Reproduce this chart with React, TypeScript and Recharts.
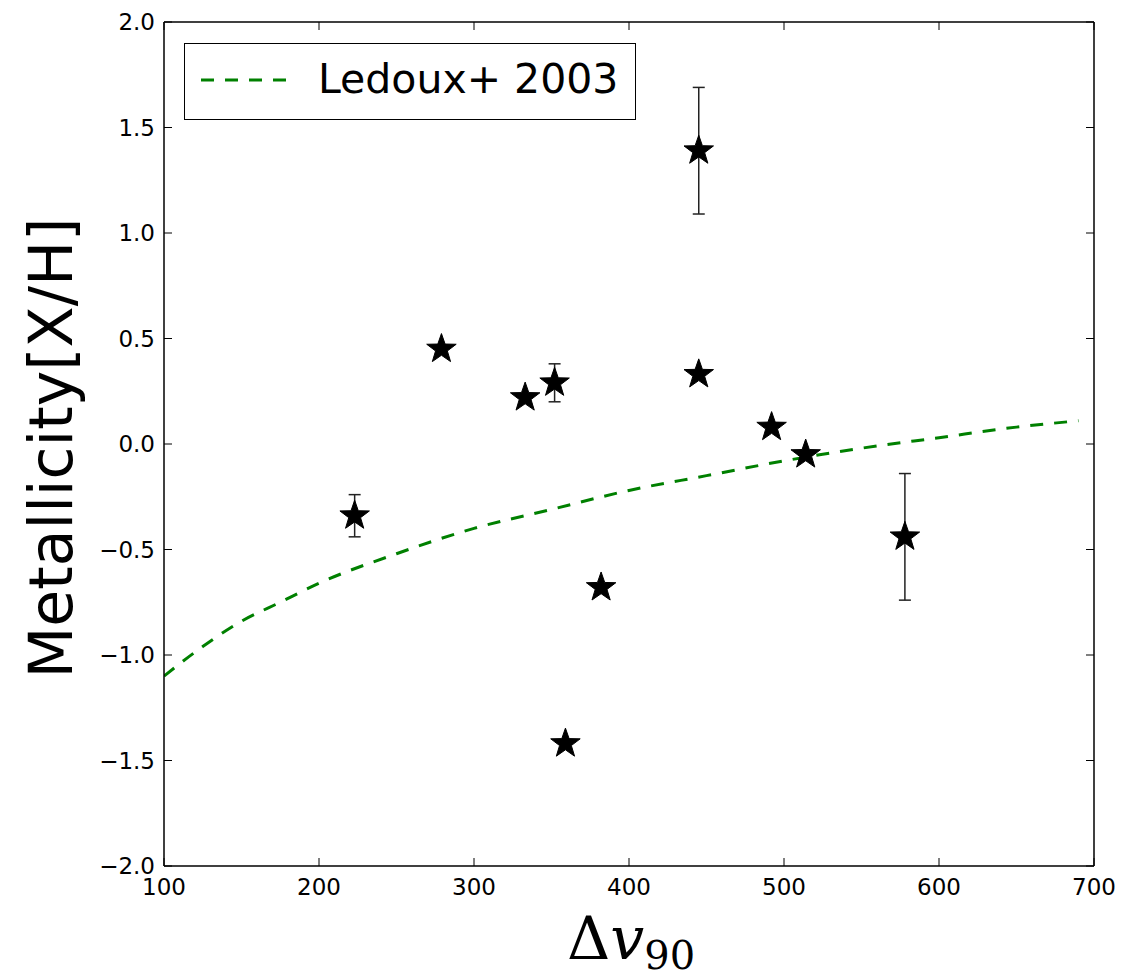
import React from 'react'
import {
  ComposedChart, Line, Scatter, ErrorBar, XAxis, YAxis, Legend, ReferenceLine,
} from 'recharts'

// measured stars: delta v90 vs metallicity, err = 0 means no error bar
const dv90 = [223, 279, 333, 352, 359, 382, 445, 445, 492, 514, 578]
const metal = [-0.34, 0.45, 0.22, 0.29, -1.42, -0.68, 1.39, 0.33, 0.08, -0.05, -0.44]
const metalErr = [0.1, 0, 0, 0.09, 0, 0, 0.3, 0, 0, 0, 0.3]

// Ledoux+ 2003 relation
const ledouxX = [100, 125, 150, 175, 200, 250, 300, 350, 400, 450, 500, 550, 600, 650, 690]
const ledouxY = [-1.1, -0.96, -0.84, -0.75, -0.66, -0.52, -0.4, -0.31, -0.22, -0.15, -0.08, -0.02, 0.03, 0.08, 0.11]

const xTicks = [100, 200, 300, 400, 500, 600, 700]
const yTicks = [-2, -1.5, -1, -0.5, 0, 0.5, 1, 1.5, 2]

const points = dv90.map((x, i) => ({ x, y: metal[i], err: metalErr[i] || null }))
const ledoux = ledouxX.map((x, i) => ({ x, y: ledouxY[i] }))

const W = 1127
const H = 977
const MARGIN = { top: 22, right: 33, left: 0, bottom: 0 }
const XAXIS_H = 111
const YAXIS_W = 164
const PLOT_TOP = MARGIN.top
const PLOT_RIGHT = W - MARGIN.right
const TICK_LEN = 8
const X_TM = 13
const Y_TM = 9

const FONT = '"DejaVu Sans", sans-serif'
const GREEN = '#008000'

const fmtY = (v: number) => (v < 0 ? '\u2212' : '') + Math.abs(v).toFixed(1)

// matplotlib style: ticks point inward, mirrored on top / right
const XTick = (props: any) => {
  const { x, y, payload } = props
  const axisY = y - X_TM
  return (
    <g>
      <line x1={x} y1={axisY} x2={x} y2={axisY - TICK_LEN} stroke="#000" strokeWidth={1} />
      <line x1={x} y1={PLOT_TOP} x2={x} y2={PLOT_TOP + TICK_LEN} stroke="#000" strokeWidth={1} />
      <text x={x} y={y} dy="0.71em" textAnchor="middle" fill="#000" fontSize={23} fontFamily={FONT}>
        {payload.value}
      </text>
    </g>
  )
}

const YTick = (props: any) => {
  const { x, y, payload } = props
  const axisX = x + Y_TM
  return (
    <g>
      <line x1={axisX} y1={y} x2={axisX + TICK_LEN} y2={y} stroke="#000" strokeWidth={1} />
      <line x1={PLOT_RIGHT - TICK_LEN} y1={y} x2={PLOT_RIGHT} y2={y} stroke="#000" strokeWidth={1} />
      <text x={x} y={y} dy="0.36em" textAnchor="end" fill="#000" fontSize={23} fontFamily={FONT}>
        {fmtY(payload.value)}
      </text>
    </g>
  )
}

const Star = (props: any) => {
  const { cx, cy } = props
  if (cx == null || cy == null) return null
  const R = 15.5
  const r = R * 0.4
  const pts: string[] = []
  for (let i = 0; i < 10; i++) {
    const rad = i % 2 === 0 ? R : r
    const a = -Math.PI / 2 + (i * Math.PI) / 5
    pts.push(`${cx + rad * Math.cos(a)},${cy + rad * Math.sin(a)}`)
  }
  return <polygon points={pts.join(' ')} fill="#000" stroke="#000" strokeWidth={1} strokeLinejoin="round" />
}

const LegendBox = () => (
  <div style={{
    boxSizing: 'border-box', width: 452, height: 77, border: '1.5px solid #000',
    background: '#fff', position: 'relative', fontFamily: FONT,
  }}>
    <svg width={100} height={20} style={{ position: 'absolute', left: 14, top: 26 }}>
      <line x1={2} y1={10} x2={98} y2={10} stroke={GREEN} strokeWidth={3} strokeDasharray="13 11" />
    </svg>
    <span style={{ position: 'absolute', left: 133, top: 10, fontSize: 41, lineHeight: '50px', color: '#000' }}>
      Ledoux+ 2003
    </span>
  </div>
)

const XLabel = () => (
  <text x={567} y={959} fontFamily='"DejaVu Serif", serif' fill="#000">
    <tspan fontSize={60}>Δ</tspan>
    <tspan fontSize={60} fontStyle="italic">v</tspan>
    <tspan fontSize={40} dy={10}>90</tspan>
  </text>
)

const YLabel = () => (
  <text x={72} y={448} transform="rotate(-90 72 448)" textAnchor="middle"
    fontFamily={FONT} fontSize={60} fill="#000">
    Metallicity[X/H]
  </text>
)

export default function App() {
  const axisLine = { stroke: '#000', strokeWidth: 1.5 }
  return (
    <div style={{ position: 'absolute', left: 0, top: 0, width: W, height: H, background: '#fff' }}>
      <ComposedChart width={W} height={H} margin={MARGIN}>
        <XAxis xAxisId="b" type="number" dataKey="x" domain={[100, 700]} ticks={xTicks}
          allowDataOverflow height={XAXIS_H} tick={<XTick />} tickSize={0} tickMargin={X_TM}
          axisLine={axisLine} tickLine={false} label={<XLabel />} />
        <YAxis yAxisId="l" type="number" dataKey="y" domain={[-2, 2]} ticks={yTicks}
          allowDataOverflow width={YAXIS_W} tick={<YTick />} tickSize={0} tickMargin={Y_TM}
          axisLine={axisLine} tickLine={false} label={<YLabel />} />
        <ReferenceLine xAxisId="b" yAxisId="l" y={2} stroke="#000" strokeWidth={1.5} />
        <ReferenceLine xAxisId="b" yAxisId="l" x={700} stroke="#000" strokeWidth={1.5} />
        <Legend layout="horizontal" verticalAlign="middle" align="center"
          wrapperStyle={{ top: 43, left: 184, width: 452, height: 77 }} content={<LegendBox />} />
        <Line xAxisId="b" yAxisId="l" data={ledoux} dataKey="y" name="Ledoux+ 2003" type="monotone"
          stroke={GREEN} strokeWidth={3} strokeDasharray="13 11" dot={false} activeDot={false}
          isAnimationActive={false} />
        <Scatter xAxisId="b" yAxisId="l" data={points} dataKey="y" shape={<Star />} legendType="none"
          isAnimationActive={false}>
          <ErrorBar dataKey="err" direction="y" width={6} stroke="#222" strokeWidth={1.5} />
        </Scatter>
      </ComposedChart>
    </div>
  )
}
